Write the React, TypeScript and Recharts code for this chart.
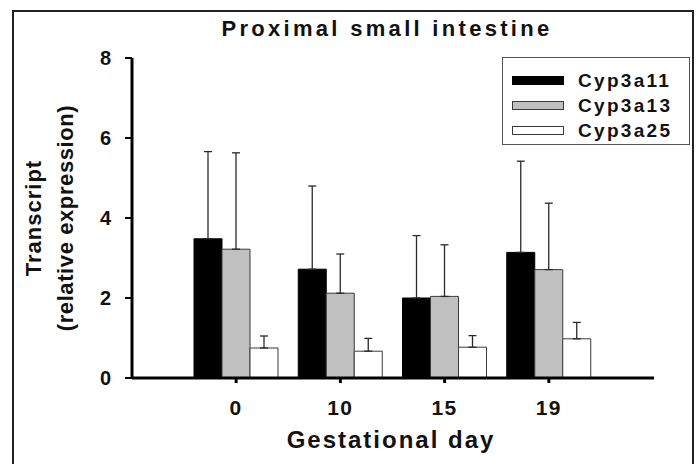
import React from 'react'
import { BarChart, Bar, XAxis, YAxis, ErrorBar, Legend } from 'recharts'

const days = ['0', '10', '15', '19']
const cyp3a11 = [3.48, 2.72, 2.0, 3.14]
const cyp3a11Err = [2.18, 2.08, 1.56, 2.28]
const cyp3a13 = [3.22, 2.12, 2.04, 2.71]
const cyp3a13Err = [2.41, 0.98, 1.29, 1.66]
const cyp3a25 = [0.75, 0.67, 0.77, 0.98]
const cyp3a25Err = [0.3, 0.32, 0.29, 0.41]
const yTicks = [0, 2, 4, 6, 8]

const series = [
  { key: 'cyp3a11', name: 'Cyp3a11', fill: '#000000', stroke: '#000000' },
  { key: 'cyp3a13', name: 'Cyp3a13', fill: '#c0c0c0', stroke: '#3a3a3a' },
  { key: 'cyp3a25', name: 'Cyp3a25', fill: '#ffffff', stroke: '#3a3a3a' },
]

// upper-only error bars: [lower, upper]
const data = days.map((d, i) => ({
  day: d,
  cyp3a11: cyp3a11[i],
  cyp3a11Err: [0, cyp3a11Err[i]],
  cyp3a13: cyp3a13[i],
  cyp3a13Err: [0, cyp3a13Err[i]],
  cyp3a25: cyp3a25[i],
  cyp3a25Err: [0, cyp3a25Err[i]],
}))

const FONT = "'Liberation Sans', Arial, Helvetica, sans-serif"

function YLabel(props: any) {
  const vb = props.viewBox || { x: 0, y: 0, width: 0, height: 0 }
  const cy = vb.y + vb.height / 2
  const x1 = vb.x - 11
  const x2 = vb.x + 21
  const common = {
    textAnchor: 'middle' as const,
    fontFamily: FONT,
    fontWeight: 700,
    fontSize: 22,
    fill: '#111',
  }
  return (
    <g>
      <text {...common} x={x1} y={cy} letterSpacing={1} transform={`rotate(-90 ${x1} ${cy})`}>
        Transcript
      </text>
      <text {...common} x={x2} y={cy} letterSpacing={0.6} transform={`rotate(-90 ${x2} ${cy})`}>
        (relative expression)
      </text>
    </g>
  )
}

function XLabel(props: any) {
  const vb = props.viewBox || { x: 0, y: 0, width: 0, height: 0 }
  return (
    <text
      x={vb.x + vb.width / 2 - 2}
      y={vb.y + 70}
      textAnchor="middle"
      fontFamily={FONT}
      fontWeight={700}
      fontSize={24}
      letterSpacing={2}
      fill="#111"
    >
      Gestational day
    </text>
  )
}

function LegendBox() {
  return (
    <div
      style={{
        width: 188,
        height: 88,
        border: '1px solid #555',
        boxSizing: 'border-box',
        background: '#fff',
        paddingTop: 10,
        paddingLeft: 9,
      }}
    >
      {series.map(s => (
        <div key={s.key} style={{ display: 'flex', alignItems: 'center', height: 25 }}>
          <div
            style={{
              width: 52,
              height: 9,
              background: s.fill,
              border: `1px solid ${s.stroke}`,
              boxSizing: 'border-box',
            }}
          />
          <span
            style={{
              marginLeft: 14,
              fontFamily: FONT,
              fontWeight: 700,
              fontSize: 19,
              letterSpacing: 2.3,
              color: '#111',
            }}
          >
            {s.name}
          </span>
        </div>
      ))}
    </div>
  )
}

export default function App() {
  return (
    <div
      style={{
        position: 'absolute',
        left: 0,
        top: 0,
        width: 697,
        height: 464,
        overflow: 'hidden',
        background: '#fff',
      }}
    >
      <div
        style={{
          position: 'absolute',
          left: 12,
          top: 10,
          width: 682,
          height: 480,
          border: '2px solid #222',
          boxSizing: 'border-box',
        }}
      />
      <div
        style={{
          position: 'absolute',
          left: 0,
          top: 18,
          width: 774,
          textAlign: 'center',
          fontFamily: FONT,
          fontWeight: 700,
          fontSize: 22,
          lineHeight: '22px',
          letterSpacing: 3.3,
          color: '#111',
        }}
      >
        Proximal small intestine
      </div>
      <div style={{ position: 'absolute', left: 0, top: 0 }}>
        <BarChart
          width={697}
          height={464}
          data={data}
          margin={{ top: 58, right: 43, bottom: 46, left: 52 }}
          barGap={0}
          barSize={28}
        >
          <XAxis
            dataKey="day"
            height={40}
            padding={{ left: 52, right: 53 }}
            axisLine={{ stroke: '#000', strokeWidth: 3 }}
            tickLine={{ stroke: '#000', strokeWidth: 3 }}
            tickSize={5}
            tickMargin={17}
            tick={{ fontFamily: FONT, fontWeight: 700, fontSize: 21, fill: '#111', letterSpacing: 1.5 }}
            label={<XLabel />}
          />
          <YAxis
            width={80}
            domain={[0, 8]}
            ticks={yTicks}
            allowDataOverflow
            axisLine={{ stroke: '#000', strokeWidth: 3 }}
            tickLine={{ stroke: '#000', strokeWidth: 2 }}
            tickSize={7}
            tickMargin={14}
            tick={{ fontFamily: FONT, fontWeight: 700, fontSize: 20, fill: '#111' }}
            label={<YLabel />}
          />
          <Legend
            layout="vertical"
            align="center"
            verticalAlign="middle"
            wrapperStyle={{ left: 502, top: 57, width: 190, height: 90 }}
            content={<LegendBox />}
          />
          {series.map(s => (
            <Bar
              key={s.key}
              dataKey={s.key}
              name={s.name}
              fill={s.fill}
              stroke={s.stroke}
              strokeWidth={1}
              isAnimationActive={false}
            >
              <ErrorBar
                dataKey={`${s.key}Err`}
                width={4}
                stroke="#2a2a2a"
                strokeWidth={1.3}
                direction="y"
                isAnimationActive={false}
              />
            </Bar>
          ))}
        </BarChart>
      </div>
    </div>
  )
}
